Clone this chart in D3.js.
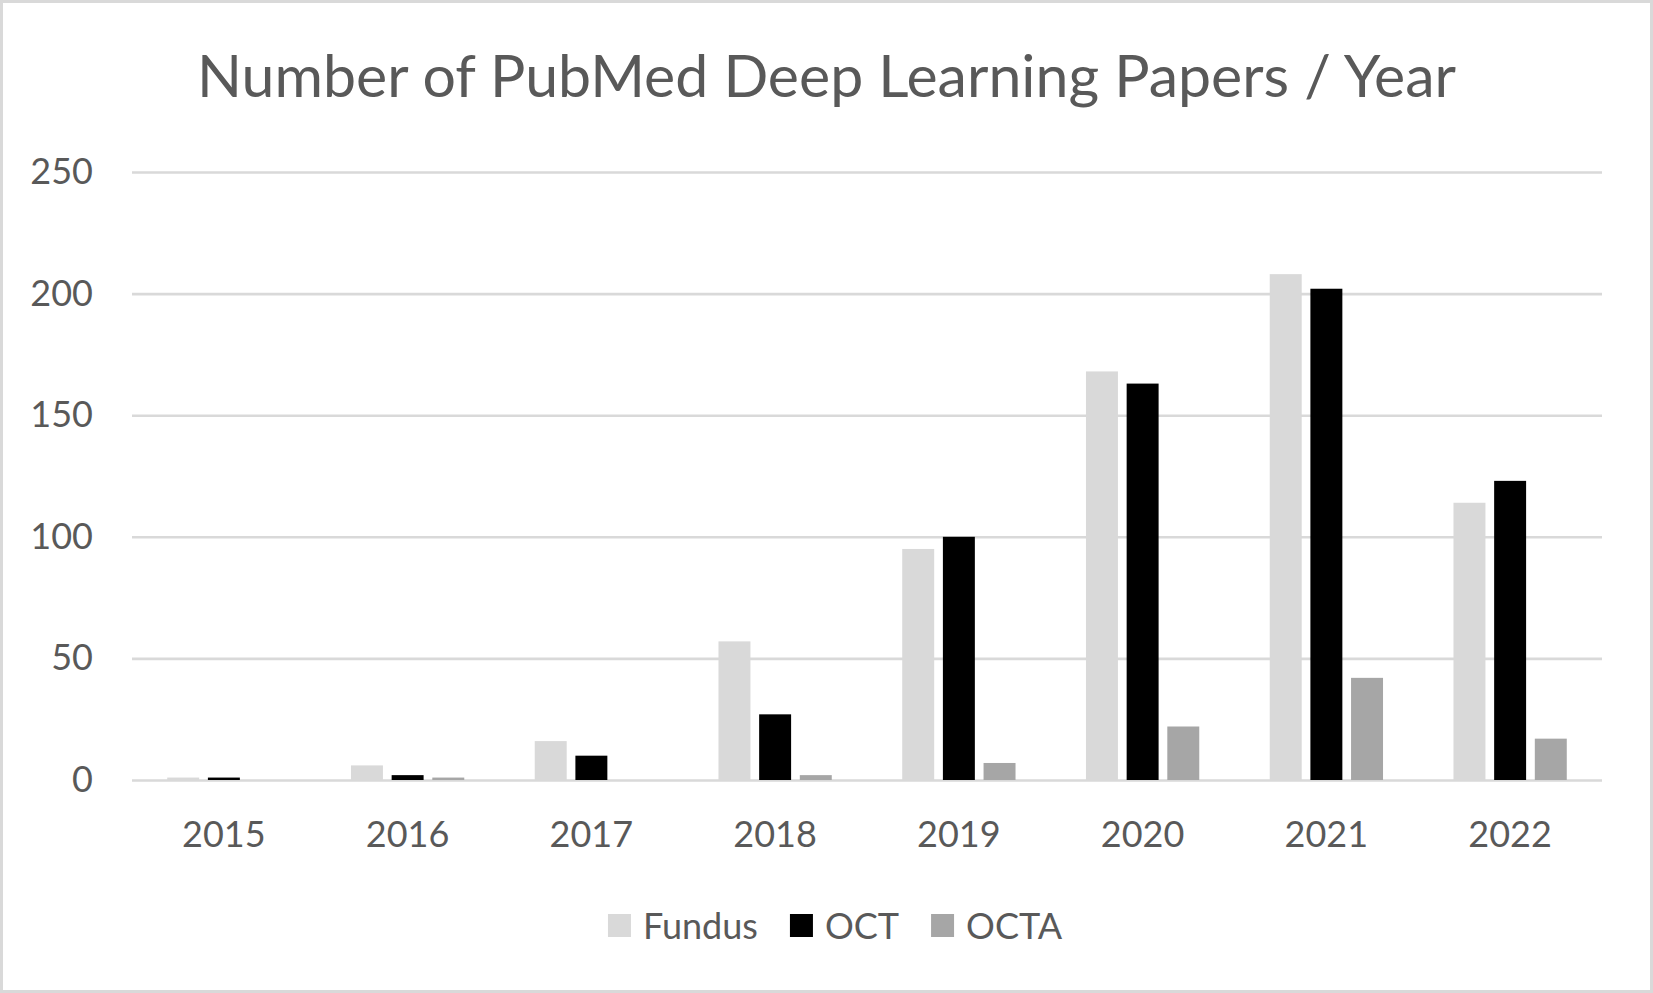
<!DOCTYPE html>
<html>
<head>
<meta charset="utf-8">
<script src="https://cdn.jsdelivr.net/npm/d3@7"></script>
<style>
    body { margin: 0; background: #fff; }
    svg { display: block; font-family: Lato, "Open Sans", sans-serif; }
</style>
</head>
<body>
<svg id="chart" width="1653" height="993"></svg>
<script>
// values
var years = ['2015', '2016', '2017', '2018', '2019', '2020', '2021', '2022'];
var seriesNames = ['Fundus', 'OCT', 'OCTA'];
var fundus = [1, 6, 16, 57, 95, 168, 208, 114];
var oct = [1, 2, 10, 27, 100, 163, 202, 123];
var octa = [0, 1, 0, 2, 7, 22, 42, 17];
var yTicks = [0, 50, 100, 150, 200, 250];
var colors = ['#d9d9d9', '#000000', '#a6a6a6'];

var textColor = '#595959',
    gridColor = '#d9d9d9',
    fontFamily = 'Lato, "Open Sans", sans-serif';

var svg = d3.select('#chart');
var W = 1653, H = 993;
// note: "top" is taken by window.top, so use plot* names
var plotLeft = 132, plotRight = 1602, plotTop = 172, plotBottom = 780;

// outer frame of the chart area
svg.append('rect')
    .attr('x', 1.5).attr('y', 1.5)
    .attr('width', W - 3).attr('height', H - 3)
    .attr('fill', '#fff')
    .attr('stroke', gridColor)
    .attr('stroke-width', 3);

var x = d3.scaleBand().domain(years).range([plotLeft, plotRight]);
var xSub = d3.scaleBand().domain(seriesNames)
    .range([-61, 61])
    .paddingInner(0.214)
    .paddingOuter(0.107);
var y = d3.scaleLinear().domain([0, 250]).range([plotBottom, plotTop]);
var color = d3.scaleOrdinal().domain(seriesNames).range(colors);

// gridlines + y labels
var yAxis = svg.append('g')
    .attr('transform', 'translate(' + plotLeft + ',0)')
    .call(d3.axisLeft(y).tickValues(yTicks)
        .tickSizeInner(-(plotRight - plotLeft)).tickSizeOuter(0).tickPadding(39));
yAxis.attr('font-family', fontFamily).attr('font-size', 36);
yAxis.select('.domain').remove();
yAxis.selectAll('line').attr('stroke', gridColor).attr('stroke-width', 2.6);
yAxis.selectAll('text').attr('fill', textColor);

// x labels, the zero gridline is the baseline
var xAxis = svg.append('g')
    .attr('transform', 'translate(0,' + plotBottom + ')')
    .call(d3.axisBottom(x).tickSize(0).tickPadding(41));
xAxis.attr('font-family', fontFamily).attr('font-size', 36);
xAxis.select('.domain').remove();
xAxis.selectAll('text').attr('fill', textColor);

// one row per year, one bar per series
var rows = years.map(function(yr, i) {
    return [
        { year: yr, key: 'Fundus', value: fundus[i] },
        { year: yr, key: 'OCT', value: oct[i] },
        { year: yr, key: 'OCTA', value: octa[i] }
    ];
});

var groups = svg.append('g').selectAll('g')
    .data(rows)
    .enter().append('g')
    .attr('transform', function(d) {
        return 'translate(' + (x(d[0].year) + x.bandwidth() / 2) + ',0)'; });

groups.selectAll('rect')
    .data(function(d) { return d; })
    .enter().append('rect')
    .attr('x', function(d) { return xSub(d.key); })
    .attr('y', function(d) { return y(d.value); })
    .attr('width', xSub.bandwidth())
    .attr('height', function(d) { return y(0) - y(d.value); })
    .attr('fill', function(d) { return color(d.key); });

// title, sized to the width it has in the reference
var title = svg.append('text')
    .attr('x', W / 2)
    .attr('y', 97)
    .attr('text-anchor', 'middle')
    .attr('fill', textColor)
    .style('font-size', '56px')
    .text('Number of PubMed Deep Learning Papers / Year');
var tw = title.node().getComputedTextLength();
title.style('font-size', (56 * 1259 / tw) + 'px');

// legend, centred under the plot
var sq = 23, gapText = 12, gapItem = 32;
var legend = svg.append('g');
var items = legend.selectAll('g')
    .data(seriesNames)
    .enter().append('g');
items.append('rect')
    .attr('width', sq).attr('height', sq)
    .attr('y', 914)
    .attr('fill', function(d) { return color(d); });
items.append('text')
    .attr('x', sq + gapText)
    .attr('y', 939)
    .attr('fill', textColor)
    .style('font-size', '36px')
    .text(function(d) { return d; });

var offset = 0, widths = [];
items.each(function(d) {
    var w = d3.select(this).select('text').node().getComputedTextLength();
    widths.push(sq + gapText + w);
});
var total = d3.sum(widths) + gapItem * (widths.length - 1);
var start = 835 - total / 2;
items.attr('transform', function(d, i) {
    var tx = start + offset;
    offset += widths[i] + gapItem;
    return 'translate(' + tx + ',0)';
});
</script>
</body>
</html>
